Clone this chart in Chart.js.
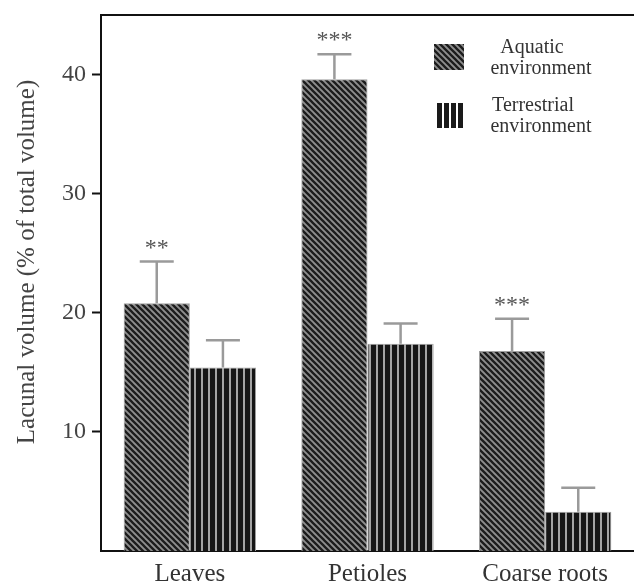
<!DOCTYPE html>
<html>
<head>
<meta charset="utf-8">
<script src="https://cdn.jsdelivr.net/npm/chart.js@4"></script>
<style>
  body { margin: 0; background: #fff; }
</style>
</head>
<body>
<canvas id="chart" width="634" height="585"></canvas>
<script>
const categories = ["Leaves", "Petioles", "Coarse roots"];
const aquatic = [20.8, 39.6, 16.8];
const aquaticErr = [3.5, 2.1, 2.7];
const terrestrial = [15.4, 17.4, 3.3];
const terrestrialErr = [2.3, 1.7, 2.0];
const stars = ["**", "***", "***"];
const yTicks = [10, 20, 30, 40];

const serif = "'Liberation Serif', 'Times New Roman', serif";

// hatch fills
function diagPattern() {
  const c = document.createElement("canvas");
  c.width = 6; c.height = 6;
  const g = c.getContext("2d");
  g.fillStyle = "#8e8e8e";
  g.fillRect(0, 0, 6, 6);
  g.strokeStyle = "#1c1c1c";
  g.lineWidth = 2.3;
  g.beginPath();
  g.moveTo(-1, -1); g.lineTo(7, 7);
  g.moveTo(-1, 5); g.lineTo(1, 7);
  g.moveTo(5, -1); g.lineTo(7, 1);
  g.stroke();
  return g.createPattern(c, "repeat");
}

function vertPattern() {
  const c = document.createElement("canvas");
  c.width = 7; c.height = 2;
  const g = c.getContext("2d");
  g.fillStyle = "#161616";
  g.fillRect(0, 0, 7, 2);
  g.fillStyle = "#a4a4a4";
  g.fillRect(5, 0, 2, 2);
  return g.createPattern(c, "repeat");
}

const diag = diagPattern();
const vert = vertPattern();

const errorBars = {
  id: "errorBars",
  afterDatasetsDraw(chart) {
    const ctx = chart.ctx;
    const y = chart.scales.y;
    const errs = [aquaticErr, terrestrialErr];
    ctx.save();
    ctx.strokeStyle = "#9a9a9a";
    ctx.lineWidth = 2.5;
    chart.data.datasets.forEach((ds, i) => {
      chart.getDatasetMeta(i).data.forEach((bar, j) => {
        const top = y.getPixelForValue(ds.data[j] + errs[i][j]);
        ctx.beginPath();
        ctx.moveTo(bar.x, bar.y);
        ctx.lineTo(bar.x, top);
        ctx.moveTo(bar.x - 17, top);
        ctx.lineTo(bar.x + 17, top);
        ctx.stroke();
      });
    });
    // significance marks above aquatic bars
    ctx.fillStyle = "#555";
    ctx.font = "24px " + serif;
    ctx.textAlign = "center";
    ctx.textBaseline = "alphabetic";
    chart.getDatasetMeta(0).data.forEach((bar, j) => {
      const top = y.getPixelForValue(aquatic[j] + aquaticErr[j]);
      ctx.fillText(stars[j], bar.x, top - 7);
    });
    ctx.restore();
  }
};

const frame = {
  id: "frame",
  afterDraw(chart) {
    const { ctx, chartArea } = chart;
    ctx.save();
    ctx.strokeStyle = "#111";
    ctx.lineWidth = 2;
    ctx.beginPath();
    ctx.moveTo(chartArea.left, chartArea.top);
    ctx.lineTo(chartArea.right, chartArea.top);
    ctx.stroke();

    // y axis title, sits a bit above the plot centre in the original
    ctx.save();
    ctx.translate(27, 262);
    ctx.rotate(-Math.PI / 2);
    ctx.fillStyle = "#444";
    ctx.font = "25px " + serif;
    ctx.textAlign = "center";
    ctx.textBaseline = "middle";
    ctx.fillText("Lacunal volume (% of total volume)", 0, 0);
    ctx.restore();

    // legend
    ctx.fillStyle = diag;
    ctx.fillRect(434, 44, 30, 26);
    ctx.fillStyle = "#1a1a1a";
    for (let k = 0; k < 4; k++) ctx.fillRect(437 + k * 7, 103, 5, 25);

    ctx.fillStyle = "#333";
    ctx.font = "20px " + serif;
    ctx.textAlign = "center";
    ctx.textBaseline = "middle";
    ctx.fillText("Aquatic", 532, 48);
    ctx.fillText("environment", 541, 69);
    ctx.fillText("Terrestrial", 533, 106);
    ctx.fillText("environment", 541, 127);
    ctx.restore();
  }
};

new Chart(document.getElementById("chart"), {
  type: "bar",
  data: {
    labels: categories,
    datasets: [
      {
        label: "Aquatic environment",
        data: aquatic,
        backgroundColor: diag,
        borderColor: "#a0a0a0",
        borderWidth: 1
      },
      {
        label: "Terrestrial environment",
        data: terrestrial,
        backgroundColor: vert,
        borderColor: "#a0a0a0",
        borderWidth: 1
      }
    ]
  },
  options: {
    responsive: false,
    animation: false,
    layout: { padding: { top: 15, right: 0, left: 0, bottom: 0 } },
    categoryPercentage: 0.745,
    barPercentage: 1.0,
    plugins: {
      legend: { display: false },
      tooltip: { enabled: false }
    },
    scales: {
      x: {
        grid: { display: false, drawTicks: false },
        border: { color: "#111", width: 2 },
        ticks: {
          color: "#333",
          padding: 8,
          font: { family: serif, size: 25 }
        },
        afterFit: s => { s.height = 34; }
      },
      y: {
        min: 0,
        max: 45,
        afterBuildTicks: s => { s.ticks = yTicks.map(v => ({ value: v })); },
        grid: { drawOnChartArea: false, tickLength: 9, tickColor: "#111", tickWidth: 2 },
        border: { color: "#111", width: 2 },
        ticks: {
          color: "#444",
          padding: 6,
          font: { family: serif, size: 24 }
        },
        afterFit: s => { s.width = 101; s.paddingTop = 0; s.paddingBottom = 0; }
      }
    }
  },
  plugins: [errorBars, frame]
});
</script>
</body>
</html>
